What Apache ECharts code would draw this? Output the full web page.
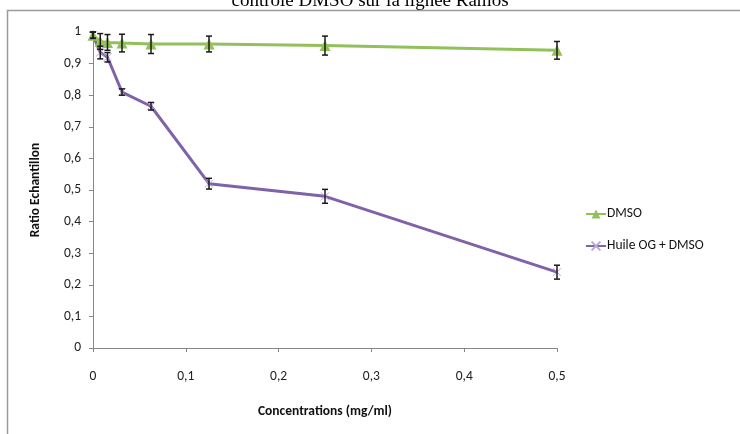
<!DOCTYPE html>
<html>
<head>
<meta charset="utf-8">
<script src="https://cdn.jsdelivr.net/npm/echarts@6/dist/echarts.min.js"></script>
<style>
	html, body { margin: 0; padding: 0; background: #fff; }
	#box { width: 740px; height: 434px; }
</style>
</head>
<body>
<div id="box"></div>
<script>
	// concentrations (mg/ml)
	var conc = [0, 0.0078, 0.0156, 0.03125, 0.0625, 0.125, 0.25, 0.5];
	var dmso = [0.99, 0.97, 0.967, 0.965, 0.962, 0.962, 0.957, 0.942];
	var dmsoErr = [0.01, 0.025, 0.025, 0.028, 0.03, 0.025, 0.03, 0.028];
	var huile = [0.99, 0.935, 0.92, 0.81, 0.765, 0.52, 0.48, 0.24];
	var huileErr = [0.01, 0.02, 0.015, 0.01, 0.012, 0.017, 0.022, 0.022];
	var xTicks = ['0', '0,1', '0,2', '0,3', '0,4', '0,5'];

	var font = 'Carlito, "Liberation Sans Narrow", "DejaVu Sans Condensed", sans-serif';

	function pairs(ys) {
		return conc.map(function (x, i) { return [x, ys[i]]; });
	}
	function errs(ys, es) {
		return conc.map(function (x, i) { return [x, ys[i] - es[i], ys[i] + es[i]]; });
	}

	function errorBar(params, api) {
		var lo = api.coord([api.value(0), api.value(1)]);
		var hi = api.coord([api.value(0), api.value(2)]);
		var w = 3;
		var st = { stroke: '#1a1a1a', lineWidth: 1.5 };
		return {
			type: 'group',
			children: [
				{ type: 'line', shape: { x1: lo[0], y1: lo[1], x2: hi[0], y2: hi[1] }, style: st },
				{ type: 'line', shape: { x1: lo[0] - w, y1: lo[1], x2: lo[0] + w, y2: lo[1] }, style: st },
				{ type: 'line', shape: { x1: hi[0] - w, y1: hi[1], x2: hi[0] + w, y2: hi[1] }, style: st }
			]
		};
	}

	var chart = echarts.init(document.getElementById('box'));

	var option = {
		animation: false,
		title: {
			text: 'contrôle DMSO sur la lignée Ramos',
			left: 'center',
			top: -13,
			textStyle: { fontFamily: 'Liberation Serif, "DejaVu Serif", serif', fontWeight: 'normal', fontSize: 19, color: '#000' }
		},
		graphic: [{
			type: 'rect',
			shape: { x: 7.5, y: 10.5, width: 760, height: 440 },
			style: { fill: 'none', stroke: '#9a9a9a', lineWidth: 1.5 },
			z: -1
		}],
		legend: {
			orient: 'vertical',
			left: 580,
			top: 202,
			itemGap: 18,
			itemWidth: 20,
			itemHeight: 11,
			data: ['DMSO', 'Huile OG + DMSO'],
			textStyle: { fontFamily: font, fontSize: 13.5, color: '#111', padding: [0, 0, 0, -4] }
		},
		grid: { left: 93, right: 183, top: 32, bottom: 86 },
		xAxis: {
			type: 'value',
			min: 0,
			max: 0.5,
			interval: 0.1,
			name: 'Concentrations (mg/ml)',
			nameLocation: 'middle',
			nameGap: 57,
			nameTextStyle: { fontFamily: font, fontWeight: 'bold', fontSize: 13.5, color: '#111' },
			axisLine: { lineStyle: { color: '#868686', width: 1 } },
			axisTick: { show: true, length: 4, lineStyle: { color: '#868686' } },
			axisLabel: {
				margin: 22,
				fontFamily: font, fontSize: 13.5, color: '#222',
				formatter: function (v) { return xTicks[Math.round(v * 10)]; }
			},
			splitLine: { show: false }
		},
		yAxis: {
			type: 'value',
			min: 0,
			max: 1,
			interval: 0.1,
			name: 'Ratio Echantillon',
			nameLocation: 'middle',
			nameGap: 50,
			nameTextStyle: { fontFamily: font, fontWeight: 'bold', fontSize: 13.5, color: '#111' },
			axisLine: { show: true, lineStyle: { color: '#868686', width: 1 } },
			axisTick: { show: true, length: 4, lineStyle: { color: '#868686' } },
			axisLabel: {
				margin: 12,
				fontFamily: font, fontSize: 13.5, color: '#222',
				formatter: function (v) { return String(Math.round(v * 10) / 10).replace('.', ','); }
			},
			splitLine: { show: false }
		},
		series: [
			{
				name: 'DMSO',
				type: 'line',
				data: pairs(dmso),
				symbol: 'triangle',
				symbolSize: 11,
				showAllSymbol: true,
				lineStyle: { color: '#92c05a', width: 3 },
				itemStyle: { color: '#92c05a' },
				z: 3
			},
			{
				name: 'Huile OG + DMSO',
				type: 'line',
				data: pairs(huile),
				symbol: 'path://M0,0L10,10M10,0L0,10',
				symbolSize: 8,
				showAllSymbol: true,
				lineStyle: { color: '#7f62a8', width: 3 },
				itemStyle: { color: '#b9a8d4', borderColor: '#b9a8d4', borderWidth: 1 },
				z: 2
			},
			{
				type: 'custom',
				renderItem: errorBar,
				data: errs(dmso, dmsoErr),
				encode: { x: 0, y: [1, 2] },
				z: 4,
				silent: true
			},
			{
				type: 'custom',
				renderItem: errorBar,
				data: errs(huile, huileErr),
				encode: { x: 0, y: [1, 2] },
				z: 4,
				silent: true
			}
		]
	};

	chart.setOption(option);
</script>
</body>
</html>
